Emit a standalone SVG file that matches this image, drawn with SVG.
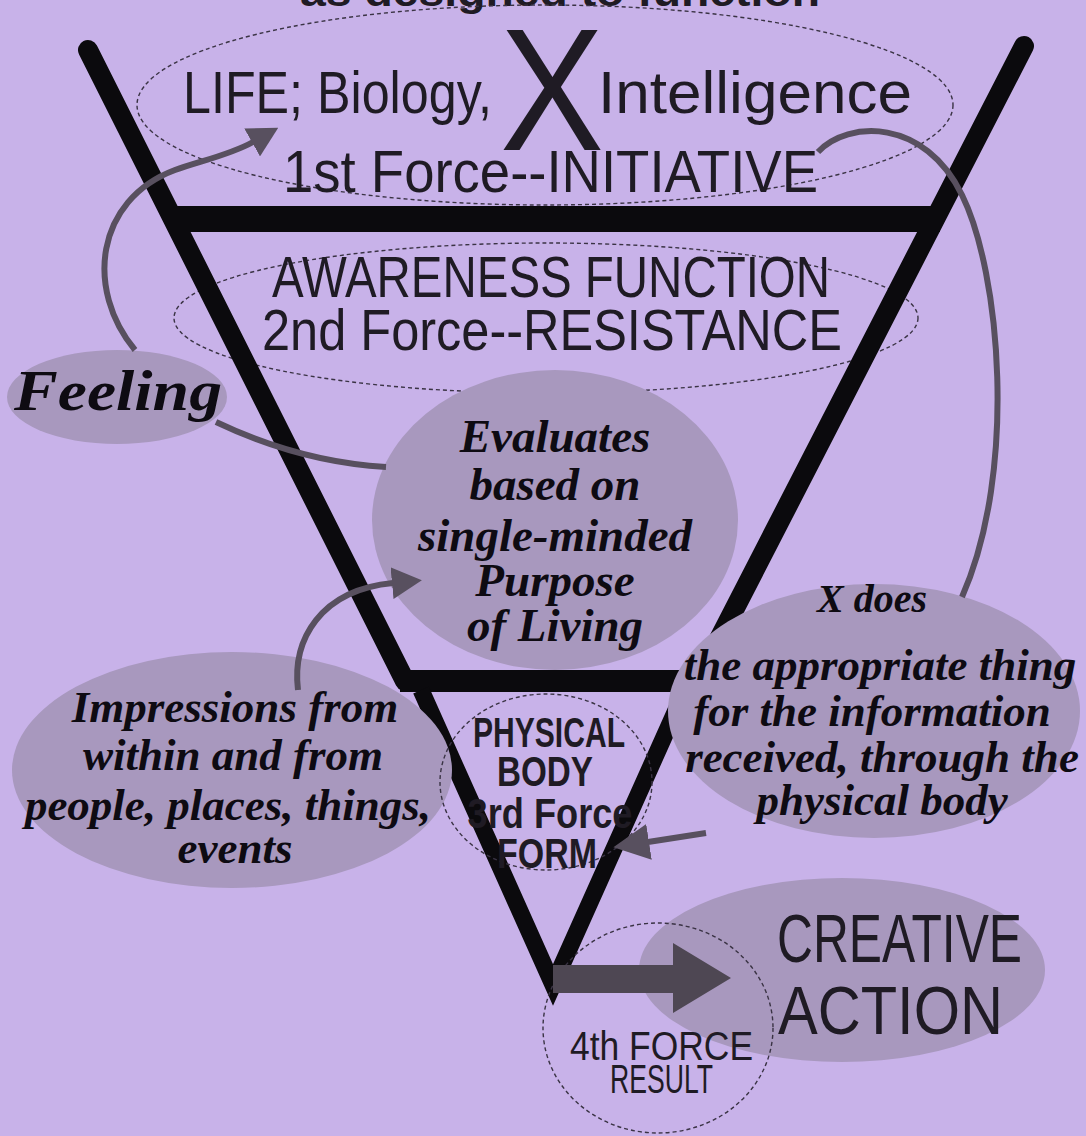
<svg xmlns="http://www.w3.org/2000/svg" width="1086" height="1136" viewBox="0 0 1086 1136">
<defs>
<style>
.dash{fill:none;stroke:#3a3344;stroke-width:1.4;stroke-dasharray:4 3}
.shade{fill:#a898be}
.funnel{fill:none;stroke:#0b0a0d}
.conn{fill:none;stroke:#58505f;stroke-width:6}
.sans{font-family:"Liberation Sans Narrow","Liberation Sans",sans-serif;fill:#1f1b24}
.bold{font-weight:bold}
.script{font-family:"Liberation Serif",serif;font-style:italic;font-weight:bold;fill:#0e0b12}
</style>
<marker id="ah" viewBox="0 0 30 32" refX="1" refY="16" markerWidth="30" markerHeight="32" markerUnits="userSpaceOnUse" orient="auto">
<path d="M0,0 L30,16 L0,32 Z" fill="#58505f"/>
</marker>
<marker id="ah2" viewBox="0 0 36 36" refX="1" refY="18" markerWidth="36" markerHeight="36" markerUnits="userSpaceOnUse" orient="auto">
<path d="M0,0 L36,18 L0,36 Z" fill="#58505f"/>
</marker>
</defs>
<rect width="1086" height="1136" fill="#c8b2e9"/>
<text class="sans bold" x="300" y="6" font-size="40" textLength="520" lengthAdjust="spacingAndGlyphs">as designed to function</text>

<g id="outlines">
<ellipse id="life-outline" class="dash" cx="545" cy="105" rx="408" ry="100"/>
<ellipse id="awareness-outline" class="dash" cx="546" cy="318" rx="372" ry="75"/>
</g>

<g id="funnel">
<path class="funnel" d="M88,50 L405,681" stroke-width="20" stroke-linecap="round"/>
<path class="funnel" d="M1024,46 L700,676" stroke-width="20" stroke-linecap="round"/>
<rect x="170" y="206" width="770" height="26" fill="#0b0a0d"/>
<rect x="400" y="670" width="310" height="22" fill="#0b0a0d"/>
<path class="funnel" d="M421,690 L553,985 L685,690" stroke-width="17" stroke-linejoin="miter" stroke-miterlimit="10"/>
</g>

<g id="feeling">
<ellipse class="shade" cx="117" cy="397" rx="110" ry="47"/>
<text class="script" x="14" y="410" font-size="58" textLength="208" lengthAdjust="spacingAndGlyphs">Feeling</text>
</g>

<g id="evaluates">
<ellipse class="shade" cx="555" cy="520" rx="183" ry="150"/>
<g class="script" font-size="47" text-anchor="middle">
<text x="555" y="452">Evaluates</text>
<text x="555" y="500">based on</text>
<text x="555" y="551">single-minded</text>
<text x="555" y="596">Purpose</text>
<text x="555" y="641">of Living</text>
</g>
</g>

<g id="impressions">
<ellipse class="shade" cx="232" cy="770" rx="220" ry="118"/>
<g class="script" font-size="45" text-anchor="middle">
<text x="235" y="722">Impressions from</text>
<text x="233" y="770">within and from</text>
<text x="228" y="820">people, places, things,</text>
<text x="235" y="863">events</text>
</g>
</g>

<g id="xdoes">
<ellipse class="shade" cx="874" cy="711" rx="206" ry="127"/>
<g class="script" font-size="45" text-anchor="middle">
<text x="872" y="612" font-size="40">X does</text>
<text x="880" y="680">the appropriate thing</text>
<text x="872" y="726">for the information</text>
<text x="882" y="772">received, through the</text>
<text x="882" y="815">physical body</text>
</g>
</g>

<g id="creative">
<ellipse class="shade" cx="842" cy="970" rx="203" ry="92"/>
<text class="sans" x="777" y="962" font-size="68" textLength="245" lengthAdjust="spacingAndGlyphs">CREATIVE</text>
<text class="sans" x="778" y="1034" font-size="68" textLength="225" lengthAdjust="spacingAndGlyphs">ACTION</text>
</g>

<g id="life">
<text class="sans" x="183" y="113" font-size="60" textLength="309" lengthAdjust="spacingAndGlyphs">LIFE; Biology,</text>
<text class="sans" x="500" y="150" font-size="175" fill="#4a4450" textLength="104" lengthAdjust="spacingAndGlyphs">X</text>
<text class="sans" x="598" y="113" font-size="60" textLength="314" lengthAdjust="spacingAndGlyphs">Intelligence</text>
<text class="sans" x="283" y="192" font-size="60" textLength="535" lengthAdjust="spacingAndGlyphs">1st Force--INITIATIVE</text>
</g>

<g id="awareness">
<text class="sans" x="272" y="297" font-size="58" textLength="558" lengthAdjust="spacingAndGlyphs">AWARENESS FUNCTION</text>
<text class="sans" x="262" y="350" font-size="58" textLength="580" lengthAdjust="spacingAndGlyphs">2nd Force--RESISTANCE</text>
</g>

<g id="physical">
<ellipse class="dash" cx="546" cy="782" rx="106" ry="88"/>
<g class="sans bold" font-size="42" text-anchor="middle">
<text x="549" y="747" textLength="152" lengthAdjust="spacingAndGlyphs">PHYSICAL</text>
<text x="545" y="786" textLength="96" lengthAdjust="spacingAndGlyphs">BODY</text>
<text x="550" y="828" textLength="165" lengthAdjust="spacingAndGlyphs">3rd Force</text>
<text x="547" y="868" textLength="100" lengthAdjust="spacingAndGlyphs">FORM</text>
</g>
</g>

<g id="result">
<ellipse class="dash" cx="658" cy="1028" rx="115" ry="105"/>
<text class="sans" x="570" y="1060" font-size="40" textLength="183" lengthAdjust="spacingAndGlyphs">4th FORCE</text>
<text class="sans" x="610" y="1093" font-size="40" textLength="103" lengthAdjust="spacingAndGlyphs">RESULT</text>
</g>

<g id="connectors">
<path class="conn" d="M135,350 C85,290 95,200 175,170 C200,161 230,155 253,142" marker-end="url(#ah)"/>
<path class="conn" d="M216,422 Q300,462 386,467"/>
<path class="conn" d="M298,690 C292,640 320,590 393,583" marker-end="url(#ah)"/>
<path class="conn" d="M818,152 C848,120 925,118 962,195 C1000,272 1018,470 962,597"/>
<path class="conn" d="M706,833 L648,842" marker-end="url(#ah2)"/>
<path d="M553,965 L673,965 L673,943 L731,978 L673,1013 L673,993 L553,993 Z" fill="#4e4753"/>
</g>
</svg>
